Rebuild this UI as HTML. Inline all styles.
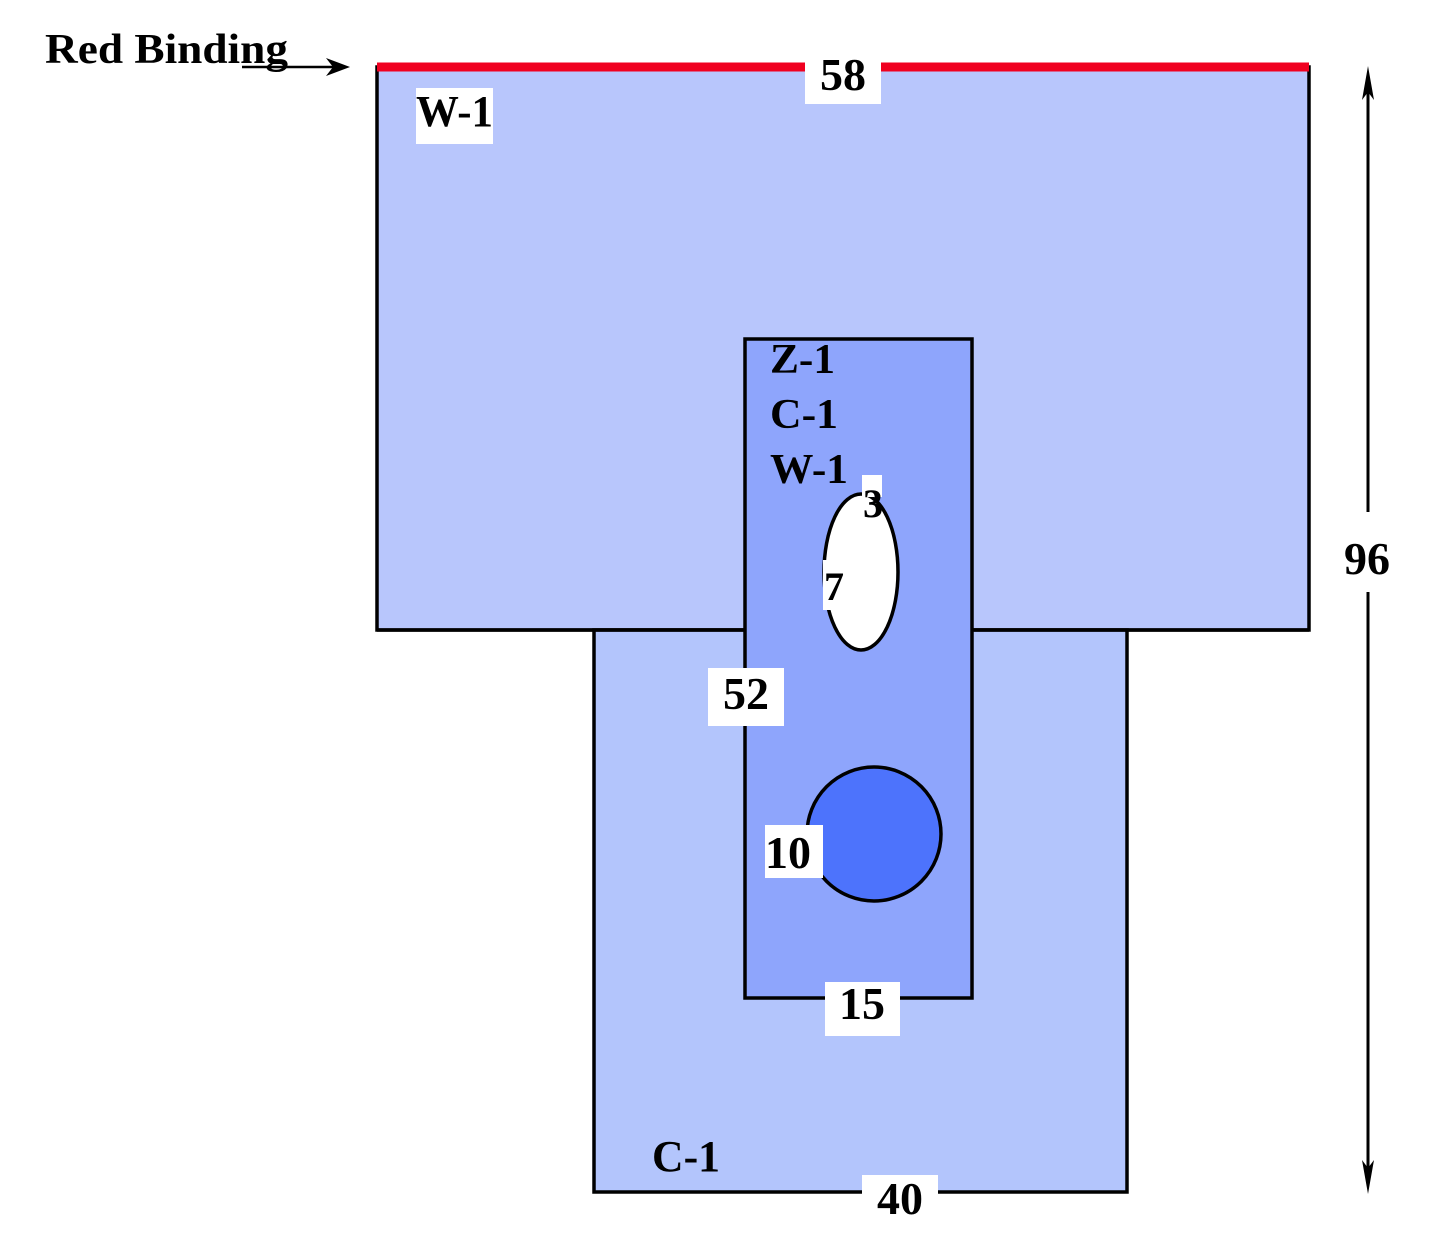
<!DOCTYPE html>
<html><head><meta charset="utf-8"><style>
html,body{margin:0;padding:0;background:#fff;}
svg{display:block;}
text{font-family:"Liberation Serif",serif;font-weight:bold;fill:#000;}
</style></head><body>
<svg width="1440" height="1252" viewBox="0 0 1440 1252" xmlns="http://www.w3.org/2000/svg">
<rect x="377" y="67" width="932" height="563" fill="#b8c6fc" stroke="#000" stroke-width="3.5"/>
<rect x="594" y="630" width="533" height="562" fill="#b3c5fc" stroke="#000" stroke-width="3.5"/>
<line x1="377" y1="630" x2="1309" y2="630" stroke="#000" stroke-width="3.5"/>
<rect x="745" y="339" width="227" height="659" fill="#8ea5fc" stroke="#000" stroke-width="3.5"/>
<line x1="377" y1="67" x2="1309" y2="67" stroke="#f00020" stroke-width="9"/>
<ellipse cx="861" cy="572" rx="37" ry="78" fill="#fff" stroke="#000" stroke-width="3.5"/>
<circle cx="874" cy="834" r="67" fill="#4d73fc" stroke="#000" stroke-width="3.5"/>
<line x1="242" y1="67" x2="340" y2="67" stroke="#000" stroke-width="2.5"/>
<path d="M350,67 L326,58 L333,67 L326,76 Z" fill="#000"/>
<text x="45" y="63" font-size="42" textLength="243" lengthAdjust="spacingAndGlyphs">Red Binding</text>
<line x1="1368" y1="80" x2="1368" y2="512" stroke="#000" stroke-width="3"/>
<line x1="1368" y1="592" x2="1368" y2="1180" stroke="#000" stroke-width="3"/>
<path d="M1368,66 L1374,100 L1368,92 L1362,100 Z" fill="#000"/>
<path d="M1368,1194 L1374,1160 L1368,1168 L1362,1160 Z" fill="#000"/>
<text x="1367" y="574" font-size="46" text-anchor="middle">96</text>
<rect x="805" y="58" width="76" height="46" fill="#fff"/>
<text x="843" y="90" font-size="46" text-anchor="middle">58</text>
<rect x="416" y="88" width="77" height="56" fill="#fff"/>
<text x="416" y="126" font-size="44" textLength="77" lengthAdjust="spacingAndGlyphs">W-1</text>
<text x="770" y="373" font-size="42" textLength="65" lengthAdjust="spacingAndGlyphs">Z-1</text>
<text x="770" y="428" font-size="42" textLength="68" lengthAdjust="spacingAndGlyphs">C-1</text>
<text x="770" y="483" font-size="42" textLength="78" lengthAdjust="spacingAndGlyphs">W-1</text>
<rect x="862" y="475" width="20" height="22" fill="#fff"/>
<text x="873" y="517" font-size="40" text-anchor="middle">3</text>
<rect x="823" y="560" width="20" height="50" fill="#fff"/>
<text x="834" y="600" font-size="40" text-anchor="middle">7</text>
<rect x="708" y="668" width="76" height="58" fill="#fff"/>
<text x="746" y="709" font-size="46" text-anchor="middle">52</text>
<rect x="765" y="825" width="58" height="53" fill="#fff"/>
<text x="788" y="868" font-size="46" text-anchor="middle">10</text>
<rect x="825" y="982" width="75" height="54" fill="#fff"/>
<text x="862" y="1019" font-size="46" text-anchor="middle">15</text>
<text x="652" y="1171" font-size="44" textLength="68" lengthAdjust="spacingAndGlyphs">C-1</text>
<rect x="862" y="1175" width="76" height="45" fill="#fff"/>
<text x="900" y="1214" font-size="46" text-anchor="middle">40</text>
</svg>
</body></html>
